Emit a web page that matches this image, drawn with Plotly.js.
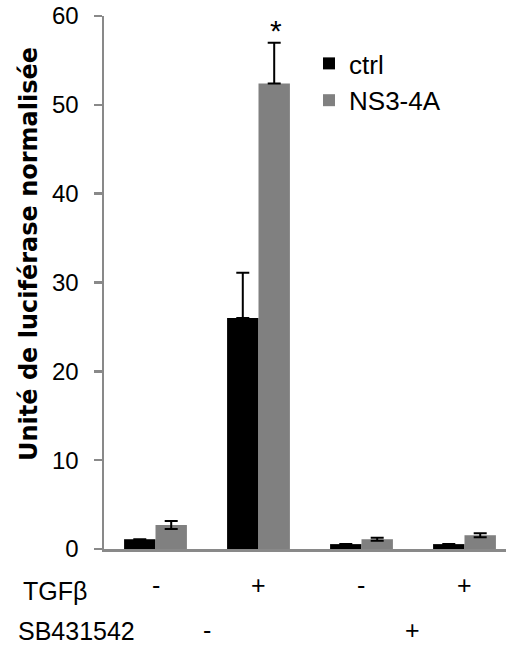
<!DOCTYPE html>
<html>
<head>
<meta charset="utf-8">
<script src="https://cdn.plot.ly/plotly-3.0.1.min.js"></script>
<style>html,body{margin:0;padding:0;background:#fff;}#chart{width:506px;height:650px;}</style>
</head>
<body>
<div id="chart"></div>
<script>
// ---- data ----
var groups = ['g1', 'g2', 'g3', 'g4'];
var tgfLabels = ['-', '+', '-', '+'];
var sbLabels = ['-', '-', '+', '+'];
var seriesNames = ['ctrl', 'NS3-4A'];
var ctrlValues = [1.1, 26.0, 0.55, 0.55];
var ctrlErrPlus = [0, 5.1, 0, 0];
var ctrlErrMinus = [0, 0, 0, 0];
var ns3Values = [2.7, 52.4, 1.1, 1.55];
var ns3ErrPlus = [0.45, 4.6, 0.17, 0.22];
var ns3ErrMinus = [0.45, 0, 0.17, 0.22];
var significance = ['', '*', '', ''];
var yTitle = 'Unité de luciférase normalisée';
var rowTitles = ['TGFβ', 'SB431542'];

// ---- style ----
var AX = '#898989';
var TXT = '#000000';
var ARIAL = 'Liberation Sans, Arial, sans-serif';

var traces = [
  {
    type: 'bar', name: seriesNames[0], x: groups, y: ctrlValues,
    marker: {color: '#000000', line: {width: 0}},
    error_y: {type: 'data', symmetric: false, array: ctrlErrPlus, arrayminus: ctrlErrMinus,
              color: '#000000', thickness: 2, width: 6.5},
    hoverinfo: 'skip'
  },
  {
    type: 'bar', name: seriesNames[1], x: groups, y: ns3Values,
    marker: {color: '#808080', line: {width: 0}},
    error_y: {type: 'data', symmetric: false, array: ns3ErrPlus, arrayminus: ns3ErrMinus,
              color: '#000000', thickness: 2, width: 6.5},
    hoverinfo: 'skip'
  }
];

var annotations = [];
var shapes = [];

// inner category labels (TGFβ row)
for (var i = 0; i < groups.length; i++) {
  annotations.push({xref: 'x', yref: 'y', x: i, y: 0, text: tgfLabels[i], showarrow: false,
    yanchor: 'middle', yshift: -36, font: {family: ARIAL, size: 25, color: TXT}});
}
// outer labels (SB431542 row), centred under their groups
var outer = [];
for (var i = 0; i < sbLabels.length; i++) {
  if (outer.length && outer[outer.length - 1].label === sbLabels[i]) {
    outer[outer.length - 1].idx.push(i);
  } else {
    outer.push({label: sbLabels[i], idx: [i]});
  }
}
outer.forEach(function (o) {
  var c = o.idx.reduce(function (a, b) { return a + b; }, 0) / o.idx.length;
  annotations.push({xref: 'x', yref: 'y', x: c, y: 0, text: o.label, showarrow: false,
    yanchor: 'middle', yshift: -81, font: {family: ARIAL, size: 25, color: TXT}});
});
// separators between categories
for (var i = 0; i < groups.length; i++) {
  var len;
  if (i === 0) len = 11;
  else if (sbLabels[i] !== sbLabels[i - 1]) len = 93;
  else len = 46;
  shapes.push({type: 'line', xref: 'x', yref: 'y', ysizemode: 'pixel', yanchor: 0,
    x0: i - 0.5, x1: i - 0.5, y0: 0, y1: -len, line: {color: AX, width: 2.5}});
}
// row titles
annotations.push({xref: 'paper', yref: 'y', x: 0, y: 0, xanchor: 'left', xshift: -83,
  yanchor: 'middle', yshift: -42, text: rowTitles[0], showarrow: false,
  font: {family: ARIAL, size: 25, color: TXT}});
annotations.push({xref: 'paper', yref: 'y', x: 0, y: 0, xanchor: 'left', xshift: -88,
  yanchor: 'middle', yshift: -82, text: rowTitles[1], showarrow: false,
  font: {family: ARIAL, size: 25, color: TXT}});
// significance marks
for (var i = 0; i < groups.length; i++) {
  if (significance[i]) {
    annotations.push({xref: 'x', yref: 'y', x: i, y: ns3Values[i] + ns3ErrPlus[i],
      xshift: 17, yanchor: 'bottom', yshift: -6, text: significance[i], showarrow: false,
      font: {family: ARIAL, size: 30, color: TXT}});
  }
}
// y title
annotations.push({xref: 'paper', yref: 'paper', x: 0, xshift: -75, y: 0.5535,
  xanchor: 'center', yanchor: 'middle', textangle: -90, text: '<b>' + yTitle + '</b>',
  showarrow: false, font: {family: 'DejaVu Sans, sans-serif', size: 24, color: TXT}});

var layout = {
  width: 506, height: 650,
  margin: {l: 104, r: 0, t: 16, b: 101, pad: 0},
  paper_bgcolor: '#ffffff', plot_bgcolor: '#ffffff',
  barmode: 'group', bargap: 0.39, bargroupgap: 0,
  showlegend: true,
  legend: {x: 0.51, xanchor: 'left', y: 0.955, yanchor: 'top', bgcolor: 'rgba(0,0,0,0)',
    font: {family: ARIAL, size: 26, color: TXT}, itemwidth: 30, tracegroupgap: 0},
  xaxis: {type: 'category', range: [-0.5, 3.403], autorange: false,
    showline: true, linecolor: AX, linewidth: 2.5, ticks: '', showticklabels: false,
    showgrid: false, zeroline: false, fixedrange: true},
  yaxis: {range: [0, 60], autorange: false, dtick: 10, tick0: 0,
    showline: true, linecolor: AX, linewidth: 2.5,
    ticks: 'outside', ticklen: 8, tickwidth: 2.5, tickcolor: AX,
    tickfont: {family: ARIAL, size: 24, color: TXT}, ticklabelstandoff: 10,
    showgrid: false, zeroline: false, fixedrange: true},
  annotations: annotations,
  shapes: shapes
};

Plotly.newPlot('chart', traces, layout, {staticPlot: true, displayModeBar: false});
</script>
</body>
</html>
